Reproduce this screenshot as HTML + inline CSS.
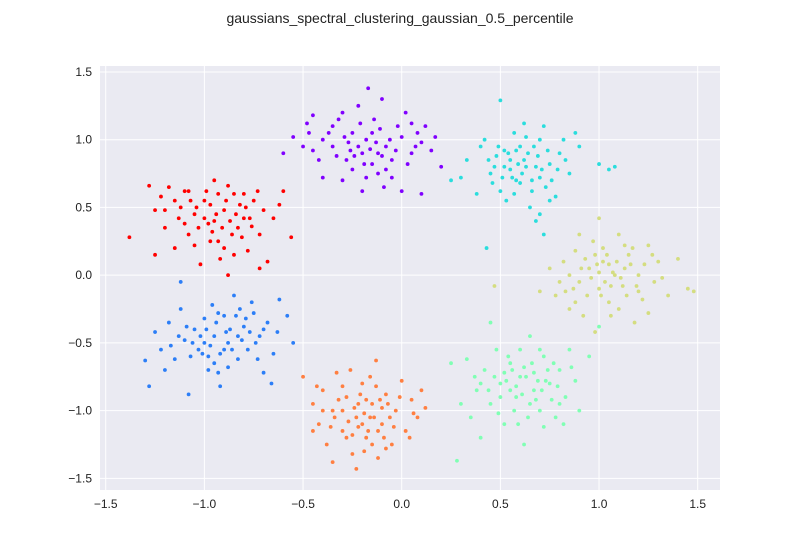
<!DOCTYPE html>
<html><head><meta charset="utf-8"><style>
body{margin:0;background:#fff;font-family:"Liberation Sans",sans-serif}
svg text{font-family:"Liberation Sans",sans-serif;fill:#222}
</style></head><body>
<svg id="chart" width="800" height="550" xmlns="http://www.w3.org/2000/svg">
<rect width="800" height="550" fill="#fff"/>
<text x="400" y="23" text-anchor="middle" font-size="14">gaussians_spectral_clustering_gaussian_0.5_percentile</text>
<rect x="100" y="66" width="620" height="424" fill="#eaeaf2"/>
<g id="grid"></g><g id="ticks"></g><g id="points"></g>
</svg>
<script>
const xTicks=[-1.5,-1.0,-0.5,0.0,0.5,1.0,1.5];
const yTicks=[-1.5,-1.0,-0.5,0.0,0.5,1.0,1.5];
const clusterColors=["#8000ff","#ff0000","#2c7ef7","#ff7f41","#80ffb4","#d4dd80","#2adddd"];
const purple=[[-0.48,1.12],[-0.47,1.05],[-0.5,0.95],[-0.45,0.92],[-0.4,1.0],[-0.35,0.95],[-0.32,1.15],[-0.3,1.2],[-0.28,0.85],[-0.25,0.78],[-0.22,1.25],[-0.2,0.9],[-0.18,1.0],[-0.15,1.05],[-0.12,0.75],[-0.1,1.3],[-0.08,0.95],[-0.05,0.85],[-0.02,1.1],[0.0,0.62],[0.02,1.2],[0.05,0.9],[0.08,1.05],[0.1,0.98],[0.15,0.92],[0.2,0.8],[-0.17,1.38],[-0.3,0.7],[-0.4,0.72],[-0.2,0.62],[-0.15,0.82],[-0.25,1.05],[-0.1,0.88],[0.05,1.12],[-0.35,1.1],[0.1,0.6],[-0.6,0.9],[-0.55,1.02],[-0.08,0.78],[-0.22,0.95],
[-0.27,0.98],[-0.24,0.88],[-0.19,0.82],[-0.16,0.93],[-0.13,0.98],[-0.11,1.08],[-0.06,1.0],[-0.03,0.92],[0.0,1.02],[0.03,0.82],[-0.33,0.88],[-0.37,1.05],[-0.29,1.02],[-0.14,1.15],[-0.18,0.72],[-0.05,0.72],[0.12,1.1],[-0.42,0.85],[-0.21,1.12],[-0.09,0.65],[0.07,0.95],[-0.26,0.92],[-0.12,0.9],[0.17,1.02],[-0.45,1.18]];
const red=[[-1.38,0.28],[-1.28,0.66],[-1.25,0.48],[-1.22,0.58],[-1.2,0.35],[-1.15,0.2],[-1.12,0.5],[-1.1,0.62],[-1.08,0.3],[-1.05,0.45],[-1.02,0.08],[-1.0,0.55],[-0.98,0.38],[-0.95,0.7],[-0.93,0.25],[-0.9,0.48],[-0.88,0.0],[-0.85,0.6],[-0.83,0.35],[-0.8,0.42],[-0.78,0.18],[-0.75,0.55],[-0.72,0.3],[-0.7,0.48],[-0.68,0.1],[-0.65,0.42],[-0.6,0.62],[-0.56,0.28],[-0.92,0.12],[-1.18,0.65],[-0.97,0.52],[-1.05,0.22],[-0.87,0.4],[-0.82,0.52],[-1.13,0.42],[-0.76,0.36],[-0.96,0.32],[-1.25,0.15],[-0.72,0.05],[-0.62,0.52],
[-1.0,0.42],[-0.94,0.45],[-0.91,0.35],[-0.89,0.55],[-0.86,0.3],[-0.84,0.45],[-0.81,0.28],[-0.79,0.5],[-1.03,0.35],[-1.07,0.55],[-1.1,0.38],[-0.99,0.62],[-0.93,0.6],[-0.9,0.2],[-0.85,0.15],[-1.15,0.55],[-0.77,0.42],[-0.73,0.62],[-1.2,0.48],[-0.97,0.25],[-0.88,0.66],[-1.04,0.5],[-0.8,0.6],[-0.95,0.4],[-1.08,0.62]];
const blue=[[-1.3,-0.63],[-1.28,-0.82],[-1.25,-0.42],[-1.22,-0.55],[-1.18,-0.35],[-1.15,-0.62],[-1.12,-0.25],[-1.1,-0.48],[-1.08,-0.88],[-1.05,-0.4],[-1.03,-0.55],[-1.0,-0.32],[-0.98,-0.6],[-0.95,-0.45],[-0.93,-0.72],[-0.9,-0.3],[-0.88,-0.5],[-0.85,-0.15],[-0.83,-0.62],[-0.8,-0.38],[-0.78,-0.55],[-0.75,-0.28],[-0.72,-0.45],[-0.7,-0.72],[-0.68,-0.35],[-0.65,-0.58],[-0.62,-0.18],[-0.58,-0.3],[-0.55,-0.5],[-1.12,-0.05],[-0.92,-0.82],[-1.0,-0.5],[-0.87,-0.4],[-0.82,-0.25],[-1.07,-0.6],[-0.96,-0.22],[-0.73,-0.62],[-0.66,-0.8],[-1.2,-0.7],[-0.9,-0.55],
[-1.02,-0.45],[-0.99,-0.4],[-0.97,-0.52],[-0.94,-0.35],[-0.92,-0.58],[-0.89,-0.42],[-0.86,-0.55],[-0.84,-0.3],[-0.81,-0.48],[-0.79,-0.32],[-1.06,-0.5],[-1.09,-0.38],[-1.13,-0.45],[-0.95,-0.65],[-0.88,-0.68],[-0.77,-0.42],[-0.74,-0.5],[-0.7,-0.4],[-1.01,-0.58],[-0.93,-0.28],[-0.83,-0.45],[-1.17,-0.52],[-0.98,-0.7],[-0.76,-0.2],[-0.63,-0.42]];
const orange=[[-0.5,-0.75],[-0.45,-0.95],[-0.42,-1.1],[-0.4,-0.85],[-0.38,-1.25],[-0.35,-1.0],[-0.33,-0.72],[-0.3,-1.15],[-0.28,-0.9],[-0.25,-1.32],[-0.23,-1.05],[-0.2,-0.8],[-0.18,-1.2],[-0.15,-0.95],[-0.13,-0.63],[-0.1,-1.1],[-0.08,-0.88],[-0.05,-1.25],[-0.03,-1.0],[0.0,-0.78],[0.02,-1.15],[0.05,-0.92],[0.08,-1.05],[0.1,-0.85],[-0.23,-1.43],[-0.12,-1.35],[-0.3,-1.0],[-0.2,-1.1],[-0.1,-0.98],[-0.35,-1.38],[-0.16,-1.05],[-0.26,-0.7],[0.04,-1.2],[-0.06,-1.05],[-0.4,-1.0],[-0.18,-0.92],[0.12,-0.98],[-0.28,-1.2],[-0.12,-1.15],[-0.45,-1.15],
[-0.24,-0.98],[-0.22,-1.12],[-0.19,-1.02],[-0.17,-1.15],[-0.14,-1.05],[-0.11,-0.92],[-0.09,-1.2],[-0.07,-0.95],[-0.27,-1.08],[-0.32,-0.92],[-0.36,-1.12],[-0.21,-0.88],[-0.15,-1.25],[-0.13,-0.82],[-0.04,-1.12],[-0.01,-0.9],[-0.3,-0.82],[-0.25,-1.18],[-0.19,-1.3],[-0.08,-1.28],[0.06,-1.02],[-0.34,-1.05],[-0.16,-0.75],[-0.22,-0.95],[-0.43,-0.82]];
const green=[[0.28,-1.37],[0.3,-0.95],[0.33,-0.62],[0.35,-1.05],[0.38,-0.85],[0.4,-1.2],[0.42,-0.7],[0.45,-0.95],[0.48,-0.55],[0.5,-0.8],[0.52,-1.1],[0.55,-0.65],[0.58,-0.9],[0.6,-0.75],[0.62,-1.25],[0.65,-0.45],[0.67,-0.85],[0.7,-1.0],[0.72,-0.6],[0.75,-0.8],[0.78,-1.05],[0.8,-0.7],[0.83,-0.9],[0.85,-0.55],[0.88,-0.78],[0.9,-1.0],[0.95,-0.6],[1.0,-0.38],[0.45,-0.35],[0.55,-0.85],[0.62,-0.68],[0.68,-0.92],[0.52,-0.72],[0.73,-0.78],[0.4,-0.8],[0.6,-0.55],[0.77,-0.65],[0.57,-1.0],[0.25,-0.65],[0.82,-1.1],
[0.5,-0.9],[0.53,-0.78],[0.56,-0.7],[0.58,-0.82],[0.61,-0.88],[0.63,-0.75],[0.65,-0.95],[0.66,-0.65],[0.69,-0.78],[0.71,-0.85],[0.74,-0.7],[0.76,-0.92],[0.47,-0.75],[0.44,-0.85],[0.59,-1.1],[0.64,-1.05],[0.7,-0.55],[0.79,-0.82],[0.86,-0.68],[0.49,-1.02],[0.54,-0.6],[0.67,-0.72],[0.72,-1.12],[0.37,-0.75],[0.8,-0.95]];
const yellow=[[0.47,-0.08],[0.7,-0.12],[0.75,0.05],[0.78,-0.15],[0.82,0.1],[0.85,-0.25],[0.88,0.18],[0.9,-0.05],[0.92,-0.3],[0.95,0.05],[0.97,0.25],[1.0,-0.1],[1.0,0.42],[1.02,0.1],[1.05,-0.2],[1.07,0.02],[1.1,0.3],[1.12,-0.08],[1.15,0.15],[1.18,-0.35],[1.2,0.0],[1.22,-0.18],[1.25,0.22],[1.28,-0.05],[1.3,0.1],[1.35,-0.15],[1.4,0.12],[1.45,-0.1],[1.48,-0.12],[0.98,-0.42],[1.08,0.0],[0.93,0.12],[1.03,-0.05],[1.13,0.05],[0.85,0.0],[1.17,0.2],[0.8,-0.05],[1.05,0.08],[1.25,-0.28],[0.9,0.3],
[0.96,-0.02],[0.99,0.08],[1.01,-0.15],[1.04,0.15],[1.06,-0.08],[1.09,0.1],[1.11,-0.02],[1.14,-0.15],[1.16,0.08],[1.19,-0.08],[0.94,-0.15],[0.91,0.05],[0.87,-0.1],[1.02,0.2],[1.1,-0.25],[1.23,0.08],[1.27,0.15],[0.98,0.15],[1.06,-0.3],[0.83,-0.12],[1.32,-0.02],[1.0,0.02],[1.13,0.22],[0.88,-0.2],[1.2,-0.12]];
const cyan=[[0.25,0.7],[0.3,0.72],[0.33,0.85],[0.38,0.6],[0.4,0.95],[0.42,1.0],[0.45,0.75],[0.48,0.88],[0.5,0.62],[0.5,1.29],[0.52,0.92],[0.55,0.78],[0.57,1.05],[0.6,0.68],[0.62,0.85],[0.65,0.5],[0.67,0.95],[0.7,0.72],[0.72,1.1],[0.75,0.82],[0.78,0.58],[0.8,0.9],[0.82,1.0],[0.85,0.75],[0.9,0.95],[1.0,0.82],[1.05,0.78],[1.08,0.8],[0.43,0.2],[0.72,0.3],[0.55,0.85],[0.6,0.95],[0.68,0.8],[0.58,0.7],[0.63,1.02],[0.47,0.8],[0.73,0.65],[0.88,1.05],[0.53,0.55],[0.7,0.45],
[0.52,0.8],[0.54,0.9],[0.56,0.72],[0.59,0.82],[0.61,0.75],[0.64,0.9],[0.66,0.7],[0.69,0.88],[0.71,0.78],[0.74,0.92],[0.76,0.7],[0.49,0.95],[0.46,0.68],[0.44,0.85],[0.57,0.6],[0.62,1.12],[0.66,0.62],[0.79,0.78],[0.7,1.0],[0.58,0.92],[0.51,0.72],[0.63,0.8],[0.75,0.55],[0.68,0.4],[0.83,0.85]];
const clusters=[purple,red,blue,orange,green,yellow,cyan];
const clusterNames=["purple","red","blue","orange","green","yellow","cyan"];

const NS="http://www.w3.org/2000/svg";
const X0=100,X1=720,Y0=66,Y1=490,xmin=-1.529,xmax=1.613,ymin=-1.586,ymax=1.544;
const sx=v=>X0+(v-xmin)/(xmax-xmin)*(X1-X0);
const sy=v=>Y1-(v-ymin)/(ymax-ymin)*(Y1-Y0);
function mk(t,a,p){const e=document.createElementNS(NS,t);for(const k in a)e.setAttribute(k,a[k]);p.appendChild(e);return e;}
const grid=document.getElementById('grid'),ticks=document.getElementById('ticks'),pts=document.getElementById('points');
const fmt=v=>(v<0?"\u2212":"")+Math.abs(v).toFixed(1);
xTicks.forEach(v=>{
  const l=mk('line',{x1:sx(v),x2:sx(v),y1:Y0,y2:Y1,stroke:'#fff','stroke-width':1},grid);
  
  
  const t=mk('text',{x:sx(v),y:Y1+18,'text-anchor':'middle','font-size':12},ticks);
  t.textContent=fmt(v);
  
  
});
yTicks.forEach(v=>{
  const l=mk('line',{x1:X0,x2:X1,y1:sy(v),y2:sy(v),stroke:'#fff','stroke-width':1},grid);
  
  
  const t=mk('text',{x:X0-8,y:sy(v)+4,'text-anchor':'end','font-size':12},ticks);
  t.textContent=fmt(v);
  
  
});
clusters.forEach((c,i)=>{
  c.forEach(p=>{
    const e=mk('circle',{cx:sx(p[0]),cy:sy(p[1]),r:1.9,fill:clusterColors[i]},pts);
    
    
  });
});
</script>
</body></html>
